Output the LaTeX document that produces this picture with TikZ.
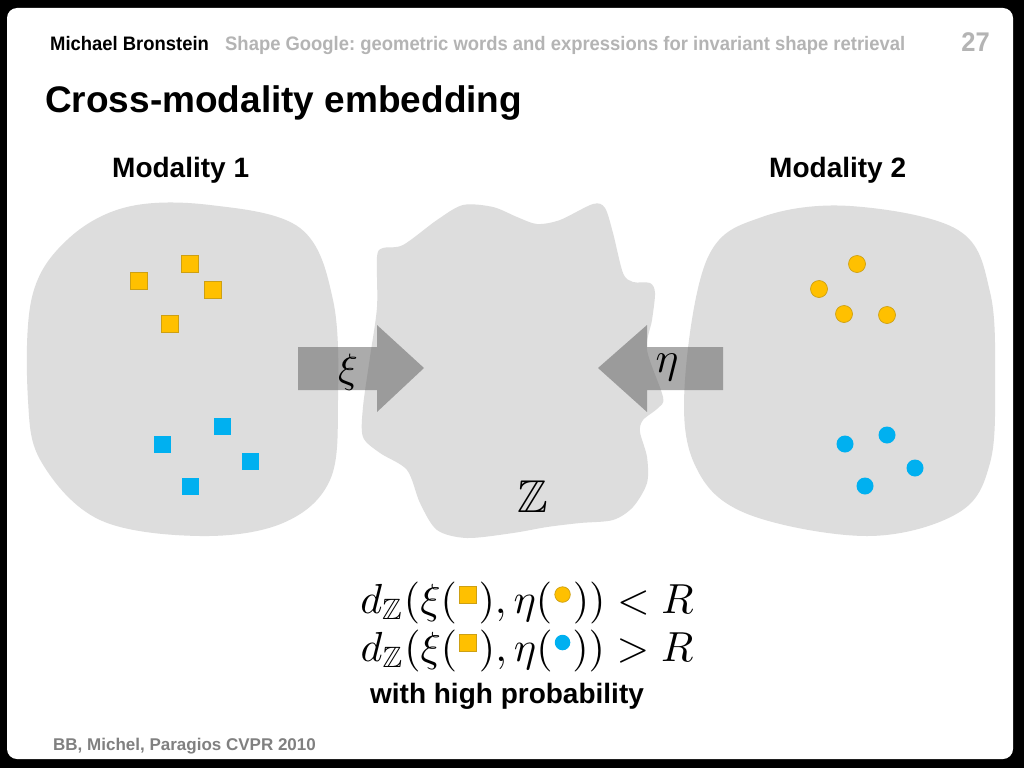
\documentclass[tikz,border=0pt]{standalone}
\usepackage{amssymb}
\usepackage{graphicx}
\usepackage{fontspec}
\setmainfont{Liberation Sans}
\newfontfamily\condf{Liberation Sans}[FakeStretch=0.945]
\usetikzlibrary{shapes.geometric}
\definecolor{blobgray}{RGB}{221,221,221}
\definecolor{yel}{RGB}{255,192,0}
\definecolor{yeledge}{RGB}{205,160,20}
\definecolor{blu}{RGB}{0,176,240}
\definecolor{hdrgray}{RGB}{180,180,180}
\definecolor{footgray}{RGB}{128,128,128}
\definecolor{arrowgray}{RGB}{100,100,100}
\tikzset{
  blob/.style={fill=blobgray, draw=none},
  ysq/.style={rectangle, fill=yel, draw=yeledge, line width=0.7pt, minimum size=17pt, inner sep=0pt},
  bsq/.style={rectangle, fill=blu, draw=none, minimum size=17pt, inner sep=0pt},
  ycirc/.style={circle, fill=yel, draw=yeledge, line width=0.7pt, minimum size=17pt, inner sep=0pt},
  bcirc/.style={circle, fill=blu, draw=none, minimum size=17pt, inner sep=0pt},
  bigarrow/.style={fill=arrowgray, fill opacity=0.54, draw=none},
  hdr/.style={anchor=base west, inner sep=0pt, font=\condf\bfseries\fontsize{19.5}{22}\selectfont},
  lbl/.style={inner sep=0pt, font=\bfseries\fontsize{28}{32}\selectfont},
  mathlbl/.style={inner sep=0pt},
}
% small shapes used inside the formulas (formula is scaled by 4.2)
\newcommand\mysq{\kern0.5pt\tikz[baseline={(0pt,-4.3pt)}]\node[ysq, minimum size=4pt, line width=0.17pt] at (0pt,0pt) {};\kern0.5pt}
\newcommand\myyc{\kern0.5pt\tikz[baseline={(0pt,-4.4pt)}]\node[ycirc, minimum size=3.7pt, line width=0.17pt] at (0pt,0pt) {};\kern0.5pt}
\newcommand\mybc{\kern0.5pt\tikz[baseline={(0pt,-4.4pt)}]\node[bcirc, minimum size=3.7pt] at (0pt,0pt) {};\kern0.5pt}
\begin{document}
\frenchspacing
\begin{tikzpicture}[x=1pt,y=-1pt]
\useasboundingbox (0,0) rectangle (1024,768);
\fill[black] (0,0) rectangle (1024,768);
\fill[white, rounded corners=10pt] (7,8) rectangle (1013,759);
% header
\node[hdr] (author) at (50,50) {Michael Bronstein};
\node[hdr, text=hdrgray] (talk) at (225,50) {Shape Google: geometric words and expressions for invariant shape retrieval};
\node[anchor=base east, inner sep=0pt, text=hdrgray, font=\condf\bfseries\fontsize{27}{30}\selectfont] (page) at (990,52) {27};
\node[anchor=base west, inner sep=0pt, font=\bfseries\fontsize{37}{40}\selectfont] (title) at (45,112) {Cross-modality embedding};
% modality labels
\node[lbl, anchor=base west] (m1) at (112,177) {Modality 1};
\node[lbl, anchor=base west] (m2) at (769,177) {Modality 2};
% left blob
\fill[blob] plot[smooth cycle, tension=0.6] coordinates {
 (210,205) (300,228) (333,300) (338,400) (330,480) (283,523) (200,536)
 (100,520) (42,463) (28,400) (32,297) (67,240) (127,207)};
% right blob
\fill[blob] plot[smooth cycle, tension=0.6] coordinates {
 (850,206) (958,230) (990,292) (995,380) (990,463) (958,513) (867,536)
 (745,513) (694,463) (685,380) (708,257) (762,217)};
% centre blob
\fill[blob] plot[smooth cycle, tension=0.5] coordinates {
 (383,248) (403,245) (437,220) (463,205) (493,207) (517,217) (537,224) (560,220)
 (593,204) (605,208) (613,233) (623,273) (633,282) (650,283) (655,293) (652,320)
 (647,350) (663,397) (658,408) (643,420) (640,432) (647,457) (647,483) (633,507)
 (613,520) (580,523) (547,527) (513,533) (467,538) (437,530) (420,503) (407,470)
 (380,453) (363,437) (363,407) (370,357) (377,307) (377,257)};
% arrows
\fill[bigarrow] (298,347) -- (377,347) -- (377,325) -- (424,368) -- (377,412) -- (377,390) -- (298,390) -- cycle;
\fill[bigarrow] (723,347) -- (647,347) -- (647,325) -- (598,368) -- (647,412) -- (647,390) -- (723,390) -- cycle;
\node[mathlbl] (xi) at (348,372) {\scalebox{4.1}{$\xi$}};
\node[mathlbl] (eta) at (667,367) {\scalebox{4.3}{$\eta$}};
\node[mathlbl] (Z) at (533,497) {\scalebox{4.6}{$\mathbb{Z}$}};
% modality 1 points
\node[ysq] (a1) at (139,281) {};
\node[ysq] (a2) at (190,264) {};
\node[ysq] (a3) at (213,290) {};
\node[ysq] (a4) at (170,324) {};
\node[bsq] (b1) at (222,426) {};
\node[bsq] (b2) at (162,444) {};
\node[bsq] (b3) at (250,461) {};
\node[bsq] (b4) at (190,486) {};
% modality 2 points
\node[ycirc] (c1) at (857,264) {};
\node[ycirc] (c2) at (819,289) {};
\node[ycirc] (c3) at (844,314) {};
\node[ycirc] (c4) at (887,315) {};
\node[bcirc] (d1) at (887,435) {};
\node[bcirc] (d2) at (845,444) {};
\node[bcirc] (d3) at (915,468) {};
\node[bcirc] (d4) at (865,486) {};
% formulas
\node[anchor=base, mathlbl] (f1) at (527,613) {\scalebox{4.2}{$d_{\mathbb{Z}}(\xi(\mysq),\eta(\myyc))<R$}};
\node[anchor=base, mathlbl] (f2) at (527,661) {\scalebox{4.2}{$d_{\mathbb{Z}}(\xi(\mysq),\eta(\mybc))>R$}};
\node[lbl, anchor=base] (prob) at (507,703) {with high probability};
% footer
\node[anchor=base west, inner sep=0pt, text=footgray, font=\bfseries\fontsize{17}{20}\selectfont] (foot) at (53,750) {BB, Michel, Paragios CVPR 2010};
\end{tikzpicture}
\end{document}
